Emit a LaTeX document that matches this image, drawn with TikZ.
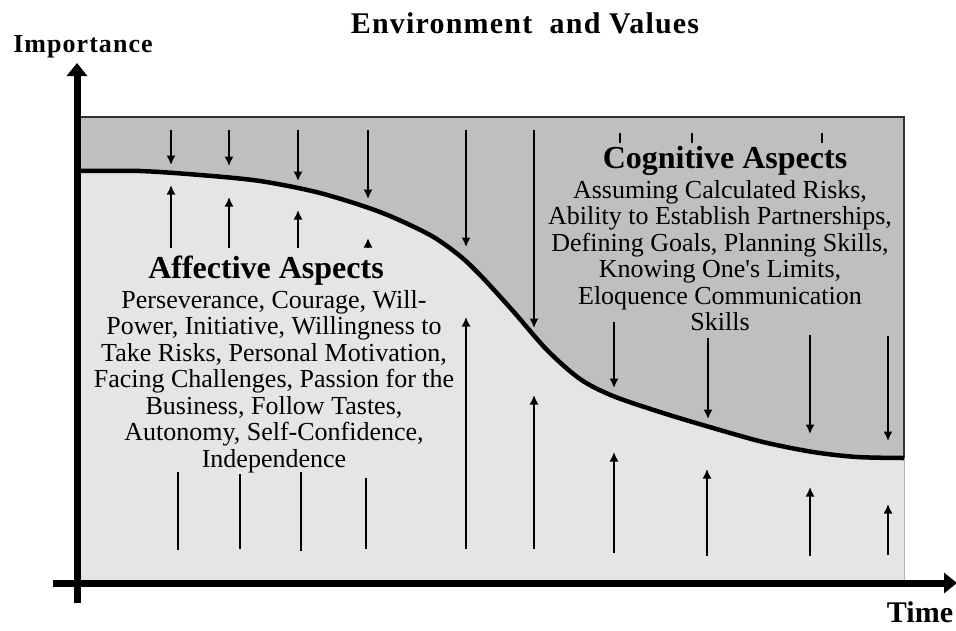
\documentclass[tikz,border=0pt]{standalone}
\usepackage{fontspec}
\setmainfont{Liberation Serif}
\usetikzlibrary{arrows.meta}
\definecolor{upperarea}{gray}{0.75}
\definecolor{lowerarea}{gray}{0.9}
\tikzset{
  push/.style={-{Latex[length=9.5pt,width=9pt]},line width=1.6pt},
  stem/.style={line width=1.3pt},
  axis/.style={line width=7pt,-{Triangle[length=13pt,width=20pt]}},
  heading/.style={font=\bfseries\fontsize{32}{34}\selectfont,inner sep=0pt},
  itemlist/.style={align=center,font=\fontsize{26}{26.5}\selectfont,inner sep=0pt},
  axislabel/.style={font=\bfseries\addfontfeatures{LetterSpace=4}\fontsize{26}{30}\selectfont,inner sep=0pt}
}
\begin{document}
\begin{tikzpicture}[x=1pt,y=-1pt]
  \useasboundingbox (0,0) rectangle (956,630);
  % the two areas
  \fill[upperarea] (77,117) rectangle (904,583);
  \fill[lowerarea] plot[smooth] coordinates {(77,171) (140,171) (200,175) (260,181) (320,193) (380,212) (430,235) (460,256) (482,277) (513,311) (547,350) (580,379) (613,396) (663,413) (713,428) (763,442) (813,452) (857,457) (904,458)}
     -- (904,583) -- (77,583) -- cycle;
  \draw[line width=1.4pt,black!80] (77,117) -- (904,117) -- (904,458);
  \draw[line width=0.6pt,black!30] (904,458) -- (904,583);
  \draw[line width=4.5pt] plot[smooth] coordinates {(77,171) (140,171) (200,175) (260,181) (320,193) (380,212) (430,235) (460,256) (482,277) (513,311) (547,350) (580,379) (613,396) (663,413) (713,428) (763,442) (813,452) (857,457) (904,458)};
  % pressure from the environment
  \foreach \x/\a/\b in {171/130/165, 229/130/166, 298/130/181, 368/130/199, 466/130/247, 534/130/328, 614/322/388, 708/338/419, 810/335/434, 888/336/441}
    \draw[push] (\x,\a) -- (\x,\b);
  \foreach \x in {620,692,822}
    \draw[line width=1.5pt] (\x,133) -- (\x,143);
  % resistance from below
  \foreach \x/\a/\b in {171/248/185, 229/248/197, 298/248/210, 368/248/238, 466/549/317, 534/549/395, 614/553/452, 707/556/469, 810/556/487, 888/555/504}
    \draw[push] (\x,\a) -- (\x,\b);
  \foreach \x/\a/\b in {178/550/472, 240/549/474, 301/551/472, 366/549/478}
    \draw[stem] (\x,\a) -- (\x,\b);
  % axes
  \draw[axis] (77,603) -- (77,63);
  \draw[axis] (53,583) -- (957,583);
  % texts
  \node[font=\bfseries\addfontfeatures{LetterSpace=4}\fontsize{30}{34}\selectfont,inner sep=0pt,anchor=base] (title) at (525,33) {Environment\ \ and Values};
  \node[axislabel,anchor=base] (ylabel) at (83,52) {Importance};
  \node[axislabel,font=\bfseries\fontsize{30}{34}\selectfont,anchor=base] (xlabel) at (920,622) {Time};
  \node[heading,anchor=base] (affective) at (266,278) {Affective Aspects};
  \node[itemlist,anchor=north] (affectivelist) at (274,290) {Perseverance, Courage, Will-\\Power, Initiative, Willingness to\\Take Risks, Personal Motivation,\\Facing Challenges, Passion for the\\Business, Follow Tastes,\\Autonomy, Self-Confidence,\\Independence};
  \node[heading,anchor=base] (cognitive) at (725,168) {Cognitive Aspects};
  \node[itemlist,anchor=north] (cognitivelist) at (720,180) {Assuming Calculated Risks,\\Ability to Establish Partnerships,\\Defining Goals, Planning Skills,\\Knowing One\textquotesingle s Limits,\\Eloquence Communication\\Skills};
\end{tikzpicture}
\end{document}
